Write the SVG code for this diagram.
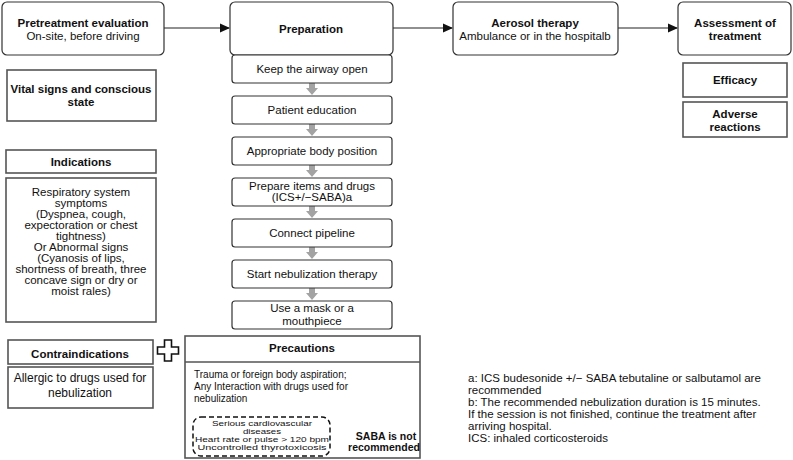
<svg xmlns="http://www.w3.org/2000/svg" width="793" height="460" viewBox="0 0 793 460">
<style>
text{font-family:"Liberation Sans",Arial,sans-serif;fill:#111;}
.t{font-size:11.5px;text-anchor:middle;}
.b{font-weight:bold;}
.l{font-size:10px;text-anchor:start;}
.d{font-size:6.9px;text-anchor:middle;}
.f{font-size:11.5px;text-anchor:start;}
.top{fill:#fff;stroke:#333;stroke-width:1.2;}
.step{fill:#fff;stroke:#333;stroke-width:1.2;}
.box{fill:#fff;stroke:#555;stroke-width:1.6;}
.con{stroke:#222;stroke-width:1.1;fill:none;}
.garrow{fill:#a3a3a3;}
</style>
<defs>
<marker id="ah" markerWidth="10" markerHeight="10" refX="9" refY="5" orient="auto" markerUnits="userSpaceOnUse">
<path d="M0,0.5 L10,5 L0,9.5 Z" fill="#111"/>
</marker>
<path id="ga" d="M-3,0 H3 V5 H6 L0,12 L-6,5 H-3 Z"/>
</defs>

<g id="connectors">
<line class="con" x1="164" y1="28" x2="229" y2="28" marker-end="url(#ah)"/>
<line class="con" x1="393" y1="28" x2="452" y2="28" marker-end="url(#ah)"/>
<line class="con" x1="618" y1="28" x2="677" y2="28" marker-end="url(#ah)"/>
<line class="con" x1="330" y1="437" x2="346" y2="437" marker-end="url(#ah)"/>
<use href="#ga" class="garrow" x="312" y="83"/>
<use href="#ga" class="garrow" x="312" y="124"/>
<use href="#ga" class="garrow" x="312" y="165"/>
<use href="#ga" class="garrow" x="312" y="206"/>
<use href="#ga" class="garrow" x="312" y="247"/>
<use href="#ga" class="garrow" x="312" y="288"/>
</g>

<g id="pretreatment">
<rect class="top" x="2" y="2" width="162" height="53" rx="5"/>
<text class="t b" x="83" y="27">Pretreatment evaluation</text>
<text class="t" x="83" y="40">On-site, before driving</text>
</g>
<g id="preparation">
<rect class="top" x="230" y="2" width="163" height="53" rx="5"/>
<text class="t b" x="311" y="33">Preparation</text>
</g>
<g id="aerosol">
<rect class="top" x="453" y="2" width="165" height="53" rx="5"/>
<text class="t b" x="535" y="27">Aerosol therapy</text>
<text class="t" x="535" y="40">Ambulance or in the hospitalb</text>
</g>
<g id="assessment">
<rect class="top" x="678" y="2" width="113" height="53" rx="5"/>
<text class="t b" x="735" y="27">Assessment of</text>
<text class="t b" x="735" y="40">treatment</text>
</g>
<g id="efficacy">
<rect class="box" x="683" y="63" width="104" height="34"/>
<text class="t b" x="735" y="84">Efficacy</text>
</g>
<g id="adverse">
<rect class="box" x="683" y="102" width="104" height="35"/>
<text class="t b" x="735" y="118">Adverse</text>
<text class="t b" x="735" y="131">reactions</text>
</g>

<g id="step1">
<rect class="step" x="232" y="55" width="160" height="28" rx="3"/>
<text class="t" x="312" y="73">Keep the airway open</text>
</g>
<g id="step2">
<rect class="step" x="232" y="96" width="160" height="28" rx="3"/>
<text class="t" x="312" y="114">Patient education</text>
</g>
<g id="step3">
<rect class="step" x="232" y="137" width="160" height="28" rx="3"/>
<text class="t" x="312" y="155">Appropriate body position</text>
</g>
<g id="step4">
<rect class="step" x="232" y="178" width="160" height="28" rx="3"/>
<text class="t" x="312" y="190">Prepare items and drugs</text>
<text class="t" x="312" y="201">(ICS+/−SABA)a</text>
</g>
<g id="step5">
<rect class="step" x="232" y="219" width="160" height="28" rx="3"/>
<text class="t" x="312" y="237">Connect pipeline</text>
</g>
<g id="step6">
<rect class="step" x="232" y="260" width="160" height="28" rx="3"/>
<text class="t" x="312" y="278">Start nebulization therapy</text>
</g>
<g id="step7">
<rect class="step" x="232" y="301" width="160" height="28" rx="3"/>
<text class="t" x="312" y="312">Use a mask or a</text>
<text class="t" x="312" y="325">mouthpiece</text>
</g>

<g id="vital">
<rect class="box" x="7" y="70" width="149" height="51"/>
<text class="t b" x="81" y="93">Vital signs and conscious</text>
<text class="t b" x="81" y="106">state</text>
</g>
<g id="indications-header">
<rect class="box" x="6" y="150" width="150" height="23"/>
<text class="t b" x="81" y="166">Indications</text>
</g>
<g id="indications-body">
<rect class="box" x="6" y="178" width="150" height="144"/>
<text class="t" x="81" y="196">Respiratory system</text>
<text class="t" x="81" y="207">symptoms</text>
<text class="t" x="81" y="218">(Dyspnea, cough,</text>
<text class="t" x="81" y="229">expectoration or chest</text>
<text class="t" x="81" y="240">tightness)</text>
<text class="t" x="81" y="251">Or Abnormal signs</text>
<text class="t" x="81" y="262">(Cyanosis of lips,</text>
<text class="t" x="81" y="273">shortness of breath, three</text>
<text class="t" x="81" y="284">concave sign or dry or</text>
<text class="t" x="81" y="295">moist rales)</text>
</g>
<g id="contra-header">
<rect class="box" x="8" y="340" width="145" height="24"/>
<text class="t b" x="80" y="358">Contraindications</text>
</g>
<g id="contra-body">
<rect class="box" x="8" y="367" width="145" height="41"/>
<text class="t" x="80" y="382" style="font-size:12px">Allergic to drugs used for</text>
<text class="t" x="80" y="397" style="font-size:12px">nebulization</text>
</g>
<g id="plus">
<path d="M164.5,340 H171.5 V347 H178.5 V354 H171.5 V361 H164.5 V354 H157.5 V347 H164.5 Z" fill="#fff" stroke="#111" stroke-width="1.6"/>
</g>
<g id="precautions">
<rect class="box" x="185" y="336" width="235" height="122"/>
<line x1="185" y1="362" x2="420" y2="362" stroke="#555" stroke-width="1.4"/>
<text class="t b" x="302" y="352">Precautions</text>
<text class="l" x="194" y="378">Trauma or foreign body aspiration;</text>
<text class="l" x="194" y="390">Any Interaction with drugs used for</text>
<text class="l" x="194" y="402">nebulization</text>
</g>
<g id="saba-conditions">
<rect x="193" y="417" width="137" height="39" rx="8" fill="none" stroke="#111" stroke-width="1.5" stroke-dasharray="5,3"/>
<text class="d" x="262" y="426" textLength="100" lengthAdjust="spacingAndGlyphs">Serious cardiovascular</text>
<text class="d" x="262" y="434" textLength="38" lengthAdjust="spacingAndGlyphs">diseases</text>
<text class="d" x="262" y="442" textLength="134" lengthAdjust="spacingAndGlyphs">Heart rate or pulse &gt; 120 bpm</text>
<text class="d" x="262" y="450" textLength="129" lengthAdjust="spacingAndGlyphs">Uncontrolled thyrotoxicosis</text>
</g>
<g id="saba-note">
<text class="t b" x="386" y="440" style="font-size:10.5px">SABA is not</text>
<text class="t b" x="384" y="451" style="font-size:10.5px">recommended</text>
</g>
<g id="footnotes">
<text class="f" x="468" y="382">a: ICS budesonide +/− SABA tebutaline or salbutamol are</text>
<text class="f" x="468" y="394">recommended</text>
<text class="f" x="468" y="406">b: The recommended nebulization duration is 15 minutes.</text>
<text class="f" x="468" y="418">If the session is not finished, continue the treatment after</text>
<text class="f" x="468" y="430">arriving hospital.</text>
<text class="f" x="468" y="442">ICS: inhaled corticosteroids</text>
</g>
</svg>
